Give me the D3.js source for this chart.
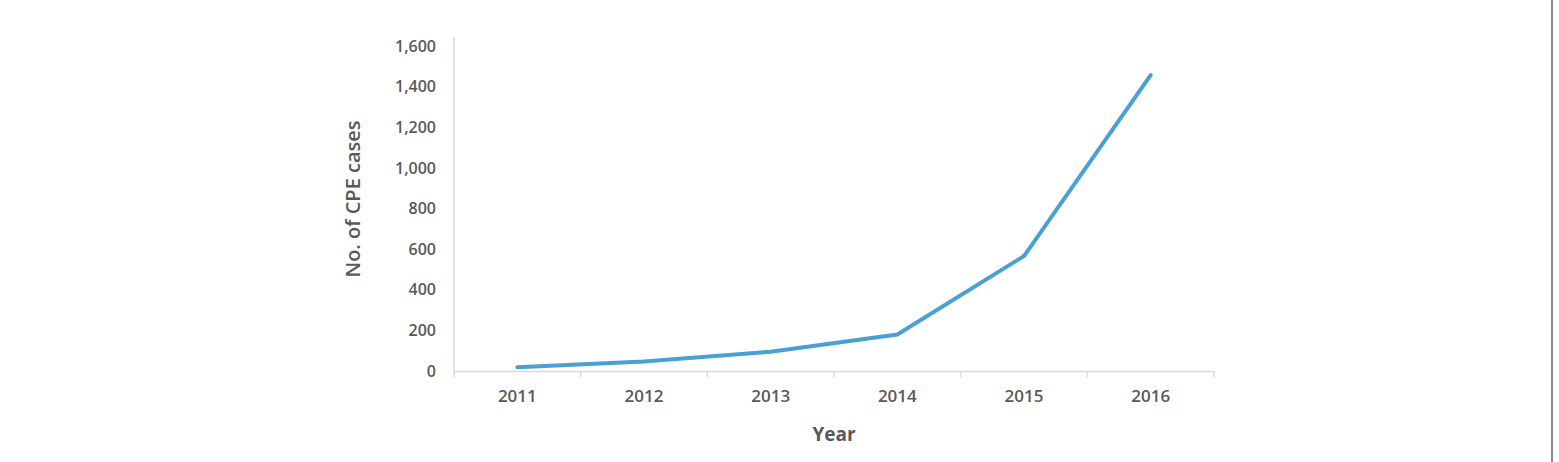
<!DOCTYPE html>
<html><head><meta charset="utf-8">
<script src="https://cdn.jsdelivr.net/npm/d3@7"></script>
<style>
html,body{margin:0;padding:0;background:#fff;}
svg{display:block;}
text{font-family:"Open Sans",sans-serif;font-weight:700;fill:#595959;}
</style></head>
<body>
<svg id="c" width="1559" height="462"></svg>
<script>
const years = ["2011","2012","2013","2014","2015","2016"];
const cases = [18, 47, 95, 180, 566, 1457];
const yTicks = [0,200,400,600,800,1000,1200,1400,1600];

const svg = d3.select("#c");
const m = {left:454, right:1214, top:46, bottom:371};

svg.append("line").attr("x1",1552).attr("x2",1552).attr("y1",0).attr("y2",462)
  .attr("stroke","#8a8a8a").attr("stroke-width",2);

const x = d3.scaleBand().domain(years).range([m.left,m.right]);
const y = d3.scaleLinear().domain([0,1600]).range([m.bottom,m.top]);

// y axis
const ya = svg.append("g").attr("transform",`translate(${m.left},0)`)
  .call(d3.axisLeft(y).tickValues(yTicks).tickFormat(d3.format(",")).tickSize(0).tickPadding(18));
ya.select(".domain").attr("stroke","#d9d9d9").attr("stroke-width",1.5).attr("d",`M0,${m.bottom}V37`);
ya.selectAll("text").style("font-size","16px").style("font-weight","600").attr("fill","#595959");

// x axis
const xa = svg.append("g").attr("transform",`translate(0,${m.bottom})`)
  .call(d3.axisBottom(x).tickSize(0).tickPadding(19));
xa.select(".domain").attr("stroke","#d9d9d9").attr("stroke-width",1.5);
xa.selectAll("text").style("font-size","17px").style("font-weight","600").attr("fill","#595959");
const bounds = years.map(d=>x(d)).concat([m.right]);
svg.append("g").selectAll("line").data(bounds).join("line")
  .attr("x1",d=>d).attr("x2",d=>d).attr("y1",m.bottom).attr("y2",m.bottom+6)
  .attr("stroke","#d9d9d9").attr("stroke-width",1.5);

// line
const line = d3.line().x((d,i)=>x(years[i])+x.bandwidth()/2).y(d=>y(d));
svg.append("path").datum(cases).attr("d",line).attr("fill","none")
  .attr("stroke","#4a9fd5").attr("stroke-width",4).attr("stroke-linecap","round").attr("stroke-linejoin","round");

// titles
svg.append("text").attr("x",834).attr("y",441).attr("text-anchor","middle")
  .style("font-size","19px").text("Year");
svg.append("text").attr("transform","translate(360,199) rotate(-90)").attr("text-anchor","middle")
  .style("font-size","20px").style("font-weight","600").text("No. of CPE cases");
</script>
</body></html>
